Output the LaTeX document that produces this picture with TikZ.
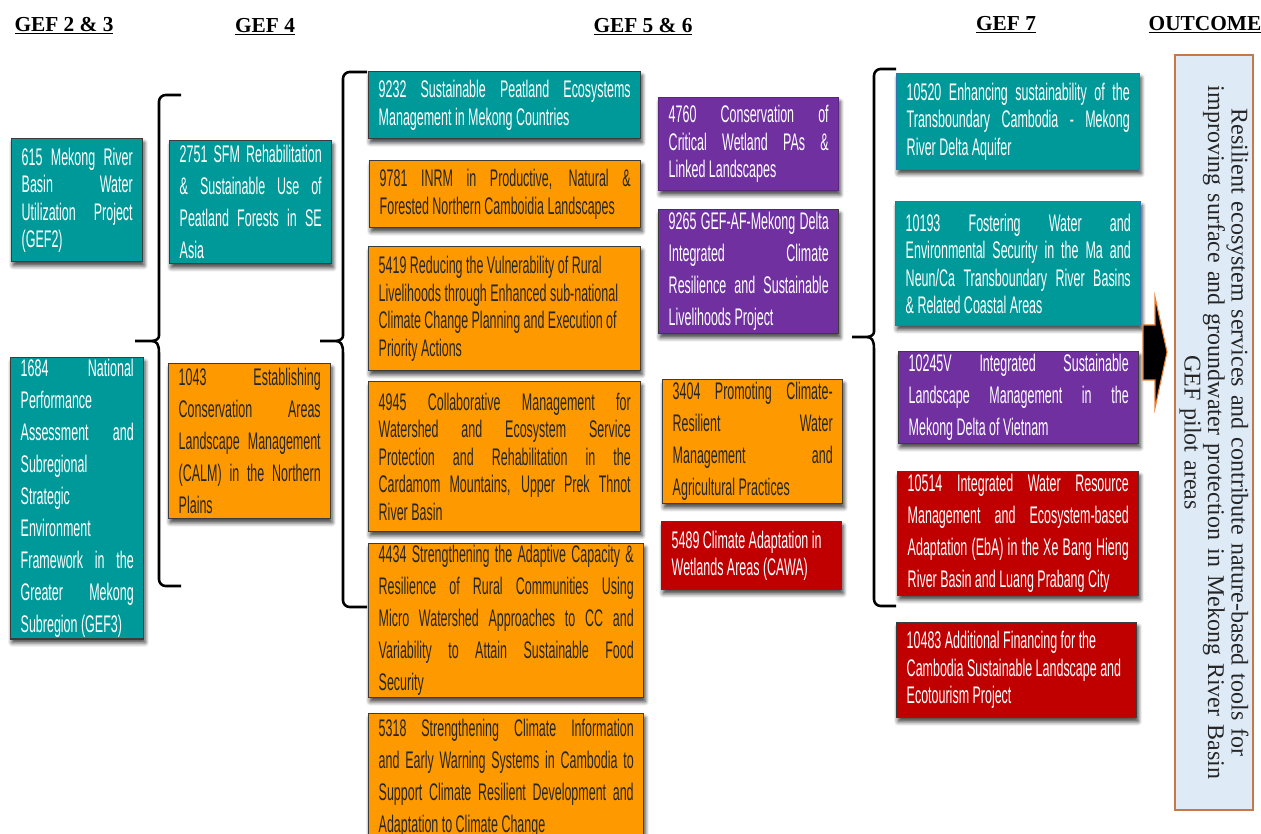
\documentclass[tikz,border=0pt]{standalone}
\usepackage{fontspec}
\setmainfont{Liberation Serif}
\newfontfamily\boxfont[FakeStretch=0.52]{Liberation Sans}
\usetikzlibrary{shadows.blur}
\definecolor{gTeal}{RGB}{0,153,153}
\definecolor{gOrange}{RGB}{255,153,0}
\definecolor{gPurple}{RGB}{112,48,160}
\definecolor{gRed}{RGB}{192,0,0}
\definecolor{gEdge}{RGB}{60,60,60}
\definecolor{gBlue}{RGB}{46,117,182}
\definecolor{gOutFill}{RGB}{222,234,246}
\definecolor{gOutLine}{RGB}{200,120,70}
\definecolor{gArrLine}{RGB}{237,125,49}
\hyphenpenalty=10000
\tolerance=10000
\hbadness=10000
\tikzset{
  box/.style={rectangle, draw=gEdge, line width=1.1pt, inner xsep=7.5pt,
              inner ysep=1pt, align=justify, text=white,
              blur shadow={shadow xshift=1pt, shadow yshift=-3pt,
                           shadow blur radius=3pt, shadow opacity=45}},
  sglsp/.style={font=\boxfont\fontsize{18}{20.6}\selectfont},
  widesp/.style={font=\boxfont\fontsize{18}{24}\selectfont},
  tealbox/.style={box, fill=gTeal},
  orgbox/.style={box, fill=gOrange, text=black!85},
  purbox/.style={box, fill=gPurple},
  redbox/.style={box, fill=gRed},
  hdr/.style={font=\bfseries\fontsize{16}{20}\selectfont},
  outbox/.style={rectangle, draw=gOutLine, line width=1pt, fill=gOutFill,
                 align=center, text=black!85,
                 font=\fontsize{18}{17.6}\selectfont},
  brk/.style={line width=1.9pt, rounded corners=5pt},
}
\newcommand{\Proj}[6][]{%
  \pgfmathsetmacro{\boxtw}{(#4-20)*0.75}%
  \node[box,#1,anchor=north west,minimum width=#4*0.75pt,
        minimum height=#5*0.75pt,text width=\boxtw pt] (#2) at (#3) {#6};}
\newcommand{\Brk}[6]{%
  \draw[brk] (#2,#4) -- (#1,#4) -- (#1,#5-12)
    [sharp corners] .. controls (#1,#5-3) and (#1-2,#5) .. (#1-8,#5)
    -- (#3,#5) (#1-8,#5) .. controls (#1-2,#5) and (#1,#5+3) .. (#1,#5+12)
    [rounded corners=5pt] -- (#1,#6) -- (#2,#6);}

\begin{document}
\begin{tikzpicture}[x=0.75pt,y=-0.75pt]
  \useasboundingbox (0,0) rectangle (1261,834);
  \clip (0,0) rectangle (1261,834);
  % headings
  \node[hdr] (h23) at (64,26) {\underline{GEF 2 \& 3}};
  \node[hdr] (h4) at (265,27) {\underline{GEF 4}};
  \node[hdr] (h56) at (643,27) {\underline{GEF 5 \& 6}};
  \node[hdr] (h7) at (1006,25) {\underline{GEF 7}};
  \node[hdr] (hout) at (1205,25) {\underline{OUTCOME}};
  % GEF 2 & 3
  \Proj[tealbox,sglsp]{p615}{11,138}{131}{123}{615 Mekong River\linebreak
    Basin Water\linebreak Utilization Project\linebreak (GEF2)}
  \Proj[tealbox,widesp]{p1684}{10,357}{133}{281}{1684 National\linebreak
    Performance\linebreak Assessment and\linebreak Subregional\linebreak
    Strategic\linebreak Environment\linebreak Framework in the\linebreak
    Greater Mekong\linebreak Subregion (GEF3)}
  % GEF 4
  \Proj[tealbox,widesp]{p2751}{169,140}{162}{123}{2751 SFM Rehabilitation\linebreak
    \& Sustainable Use of\linebreak Peatland Forests in SE\linebreak Asia}
  \Proj[orgbox,widesp]{p1043}{168,363}{162}{155}{1043 Establishing\linebreak
    Conservation Areas\linebreak Landscape Management\linebreak
    (CALM) in the Northern\linebreak Plains}
  % GEF 5 & 6
  \Proj[tealbox,sglsp]{p9232}{368,71}{272}{67}{9232 Sustainable Peatland Ecosystems\linebreak
    Management in Mekong Countries}
  \Proj[orgbox,sglsp]{p9781}{369,160}{271}{67}{9781 INRM in Productive, Natural \&\linebreak
    Forested Northern Camboidia Landscapes}
  \Proj[orgbox,sglsp]{p5419}{368,246}{272}{124}{5419 Reducing the Vulnerability of Rural\\
    Livelihoods through Enhanced sub-national\\
    Climate Change Planning and Execution of\\ Priority Actions}
  \Proj[orgbox,sglsp]{p4945}{368,381}{272}{150}{4945 Collaborative Management for\linebreak
    Watershed and Ecosystem Service\linebreak
    Protection and Rehabilitation in the\linebreak
    Cardamom Mountains, Upper Prek Thnot\linebreak River Basin}
  \Proj[orgbox,widesp]{p4434}{368,543}{275}{154}{4434 Strengthening the Adaptive Capacity \&\linebreak
    Resilience of Rural Communities Using\linebreak
    Micro Watershed Approaches to CC and\linebreak
    Variability to Attain Sustainable Food\linebreak Security}
  \Proj[orgbox,widesp]{p5318}{368,713}{275}{130}{5318 Strengthening Climate Information\linebreak
    and Early Warning Systems in Cambodia to\linebreak
    Support Climate Resilient Development and\linebreak
    Adaptation to Climate Change}
  \Proj[purbox,sglsp,draw=gPurple!80!black]{p4760}{658,97}{180}{93}{4760 Conservation of\linebreak
    Critical Wetland PAs \&\linebreak Linked Landscapes}
  \Proj[purbox,widesp]{p9265}{658,209}{180}{124}{9265 GEF-AF-Mekong Delta\linebreak
    Integrated Climate\linebreak Resilience and Sustainable\linebreak
    Livelihoods Project}
  \Proj[orgbox,widesp]{p3404}{662,379}{180}{124}{3404 Promoting Climate-\linebreak
    Resilient Water\linebreak Management and\linebreak Agricultural Practices}
  \Proj[redbox,sglsp]{p5489}{661,521}{180}{68}{5489 Climate Adaptation in\\
    Wetlands Areas (CAWA)}
  % GEF 7
  \Proj[tealbox,sglsp,draw=gBlue]{p10520}{896,73}{243}{96}{10520 Enhancing sustainability of the\linebreak
    Transboundary Cambodia - Mekong\linebreak River Delta Aquifer}
  \Proj[tealbox,sglsp,draw=gBlue]{p10193}{895,201}{245}{124}{10193 Fostering Water and\linebreak
    Environmental Security in the Ma and\linebreak
    Neun/Ca Transboundary River Basins\linebreak \& Related Coastal Areas}
  \Proj[purbox,widesp]{p10245}{898,351}{240}{92}{10245V Integrated Sustainable\linebreak
    Landscape Management in the\linebreak Mekong Delta of Vietnam}
  \Proj[redbox,widesp]{p10514}{897,471}{241}{124}{10514 Integrated Water Resource\linebreak
    Management and Ecosystem-based\linebreak
    Adaptation (EbA) in the Xe Bang Hieng\linebreak
    River Basin and Luang Prabang City}
  \Proj[redbox,sglsp]{p10483}{896,622}{240}{95}{10483 Additional Financing for the\\
    Cambodia Sustainable Landscape and\\ Ecotourism Project}
  % outcome
  \node[outbox, rotate=-90, minimum width=566pt, minimum height=58.5pt,
        text width=540pt] (outc) at (1214,432.5)
    {Resilient ecosystem services and contribute nature-based tools for\\
     improving surface and groundwater protection in Mekong River Basin\\
     GEF pilot areas};
  % brackets and arrow
  \Brk{159}{181}{135}{95}{341}{586}
  \Brk{343}{367}{320}{72}{341}{607}
  \Brk{874}{896}{852}{69}{337}{606}
  \draw[fill=black, draw=gArrLine, line width=0.8pt] (1143,325) -- (1155,325)
    -- (1155,297) -- (1167,352) -- (1155,408) -- (1155,380) -- (1143,380) -- cycle;
\end{tikzpicture}
\end{document}
